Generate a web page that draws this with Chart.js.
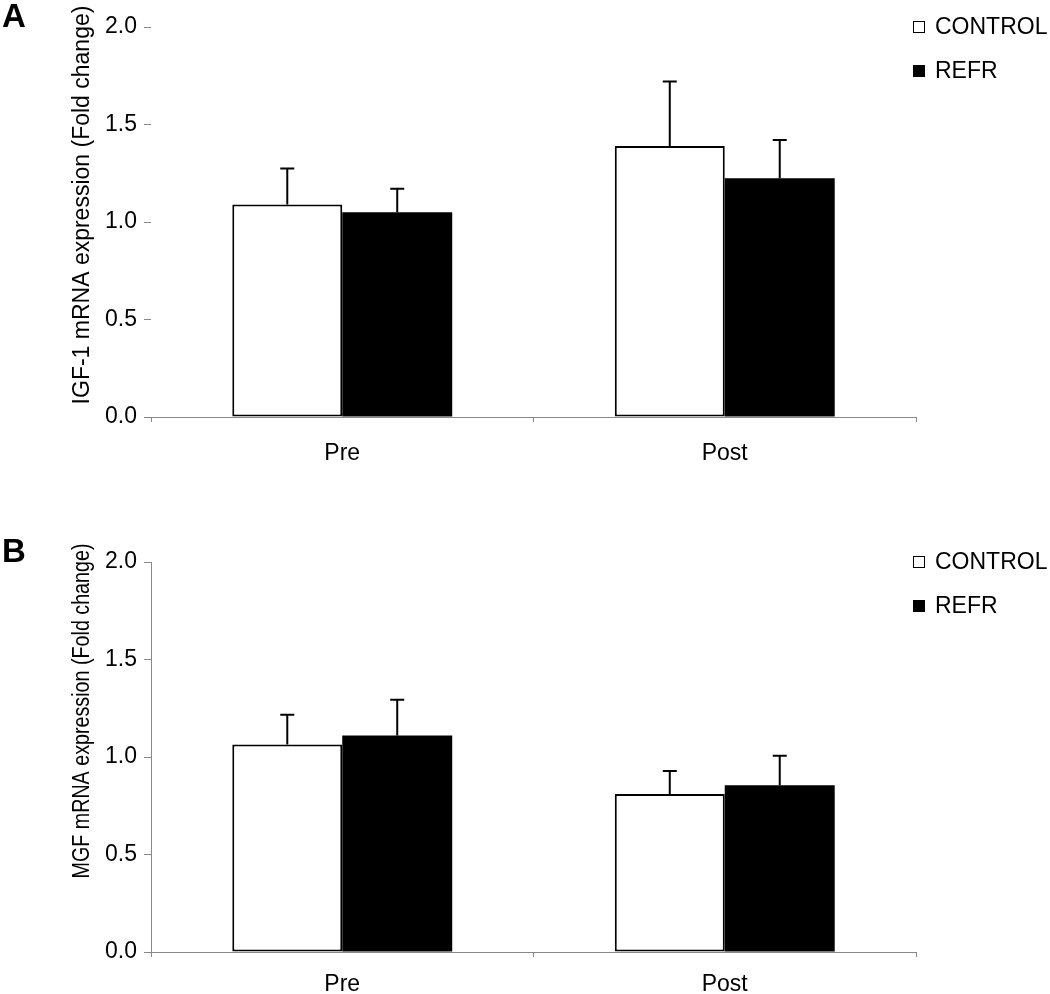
<!DOCTYPE html>
<html>
<head>
<meta charset="utf-8">
<script src="https://cdn.jsdelivr.net/npm/chart.js@4"></script>
<style>
  html, body { margin: 0; padding: 0; background: #fff; }
  body { width: 1050px; height: 994px; overflow: hidden; position: relative; font-family: "Liberation Sans", Arial, sans-serif; }
  .panel { position: absolute; left: 0; width: 1050px; height: 497px; }
  .legend { position: absolute; left: 913px; top: 15px; font-size: 23px; color: #000; }
  .legend .row { display: flex; align-items: center; height: 23px; margin-bottom: 21px; }
  .legend .box { width: 12px; height: 12px; box-sizing: border-box; border: 1.5px solid #000; margin-right: 10px; }
</style>
</head>
<body>
<div class="panel" style="top:0px"><canvas id="chartA" width="1050" height="497"></canvas><div class="legend" id="legendA"></div></div>
<div class="panel" style="top:535px"><canvas id="chartB" width="1050" height="497"></canvas><div class="legend" id="legendB"></div></div>
<script>
// categories
var timepoints = ['Pre', 'Post'];
var groups = ['CONTROL', 'REFR'];

// panel A - IGF-1 (mean, upper SEM)
var igfControl = [1.09, 1.39];
var igfControlErr = [0.185, 0.33];
var igfRefr = [1.05, 1.225];
var igfRefrErr = [0.12, 0.195];

// panel B - MGF
var mgfControl = [1.064, 0.81];
var mgfControlErr = [0.153, 0.118];
var mgfRefr = [1.11, 0.855];
var mgfRefrErr = [0.184, 0.152];

var yTicks = [0, 0.5, 1.0, 1.5, 2.0];

var fontFam = '"Liberation Sans", Arial, sans-serif';

// error bars, upward only
const errorBars = {
  id: 'errorBars',
  afterDatasetsDraw(chart) {
    const ctx = chart.ctx;
    const yScale = chart.scales.y;
    chart.data.datasets.forEach((ds, i) => {
      const meta = chart.getDatasetMeta(i);
      meta.data.forEach((bar, j) => {
        const top = yScale.getPixelForValue(ds.data[j] + ds.errors[j]);
        ctx.save();
        ctx.strokeStyle = '#000';
        ctx.lineWidth = 2;
        ctx.beginPath();
        ctx.moveTo(bar.x, bar.y);
        ctx.lineTo(bar.x, top);
        ctx.moveTo(bar.x - 7, top);
        ctx.lineTo(bar.x + 7, top);
        ctx.stroke();
        ctx.restore();
      });
    });
  }
};

// panel letter and the y title
const panelText = {
  id: 'panelText',
  afterDraw(chart, args, opts) {
    const ctx = chart.ctx;
    ctx.save();
    ctx.fillStyle = '#000';
    ctx.font = 'bold 33px ' + fontFam;
    ctx.textBaseline = 'alphabetic';
    ctx.textAlign = 'left';
    ctx.fillText(opts.letter, 2, 27);
    ctx.translate(89, opts.titleY);
    ctx.rotate(-Math.PI / 2);
    ctx.font = '23px ' + fontFam;
    ctx.textAlign = 'center';
    ctx.fillText(opts.title, 0, 0, opts.titleWidth);
    ctx.restore();
  }
};

function makePanel(id, legendId, letter, title, titleY, titleWidth, ctrl, ctrlErr, refr, refrErr, yBorder, xPad) {
  const chart = new Chart(document.getElementById(id), {
    type: 'bar',
    data: {
      labels: timepoints,
      datasets: [{
        label: groups[0],
        data: ctrl,
        errors: ctrlErr,
        backgroundColor: '#fff',
        borderColor: '#000',
        borderWidth: 2,
        borderSkipped: false
      }, {
        label: groups[1],
        data: refr,
        errors: refrErr,
        backgroundColor: '#000',
        borderColor: '#000',
        borderWidth: 0,
        borderSkipped: false
      }]
    },
    options: {
      responsive: false,
      animation: false,
      categoryPercentage: 0.575,
      barPercentage: 1.0,
      layout: { padding: { top: 27, right: 134, bottom: 20, left: 0 } },
      plugins: {
        legend: { display: false },
        tooltip: { enabled: false },
        panelText: { letter: letter, title: title, titleY: titleY, titleWidth: titleWidth }
      },
      scales: {
        x: {
          offset: true,
          grid: { drawOnChartArea: false, tickLength: 5, color: '#888', offset: true },
          border: { display: true, color: '#888', width: 1 },
          ticks: { color: '#000', padding: xPad, font: { family: fontFam, size: 23 } },
          afterFit: s => { s.height = 60; }
        },
        y: {
          min: 0,
          max: 2,
          afterBuildTicks: s => { s.ticks = yTicks.map(v => ({ value: v })); },
          ticks: { color: '#000', padding: 7, font: { family: fontFam, size: 23 }, callback: v => Number(v).toFixed(1) },
          grid: { drawOnChartArea: false, tickLength: 7, color: '#888' },
          border: { display: yBorder, color: '#888', width: 1 },
          afterFit: s => { s.width = 151; }
        }
      }
    },
    plugins: [errorBars, panelText]
  });

  // legend
  const leg = document.getElementById(legendId);
  chart.data.datasets.forEach(ds => {
    const row = document.createElement('div');
    row.className = 'row';
    const box = document.createElement('span');
    box.className = 'box';
    box.style.background = ds.backgroundColor;
    const txt = document.createElement('span');
    txt.textContent = ds.label;
    row.appendChild(box);
    row.appendChild(txt);
    leg.appendChild(row);
  });
  return chart;
}

makePanel('chartA', 'legendA', 'A', 'IGF-1 mRNA expression (Fold change)', 205, 408, igfControl, igfControlErr, igfRefr, igfRefrErr, false, 18);
makePanel('chartB', 'legendB', 'B', 'MGF mRNA expression (Fold change)', 176, 335, mgfControl, mgfControlErr, mgfRefr, mgfRefrErr, true, 14);
</script>
</body>
</html>
